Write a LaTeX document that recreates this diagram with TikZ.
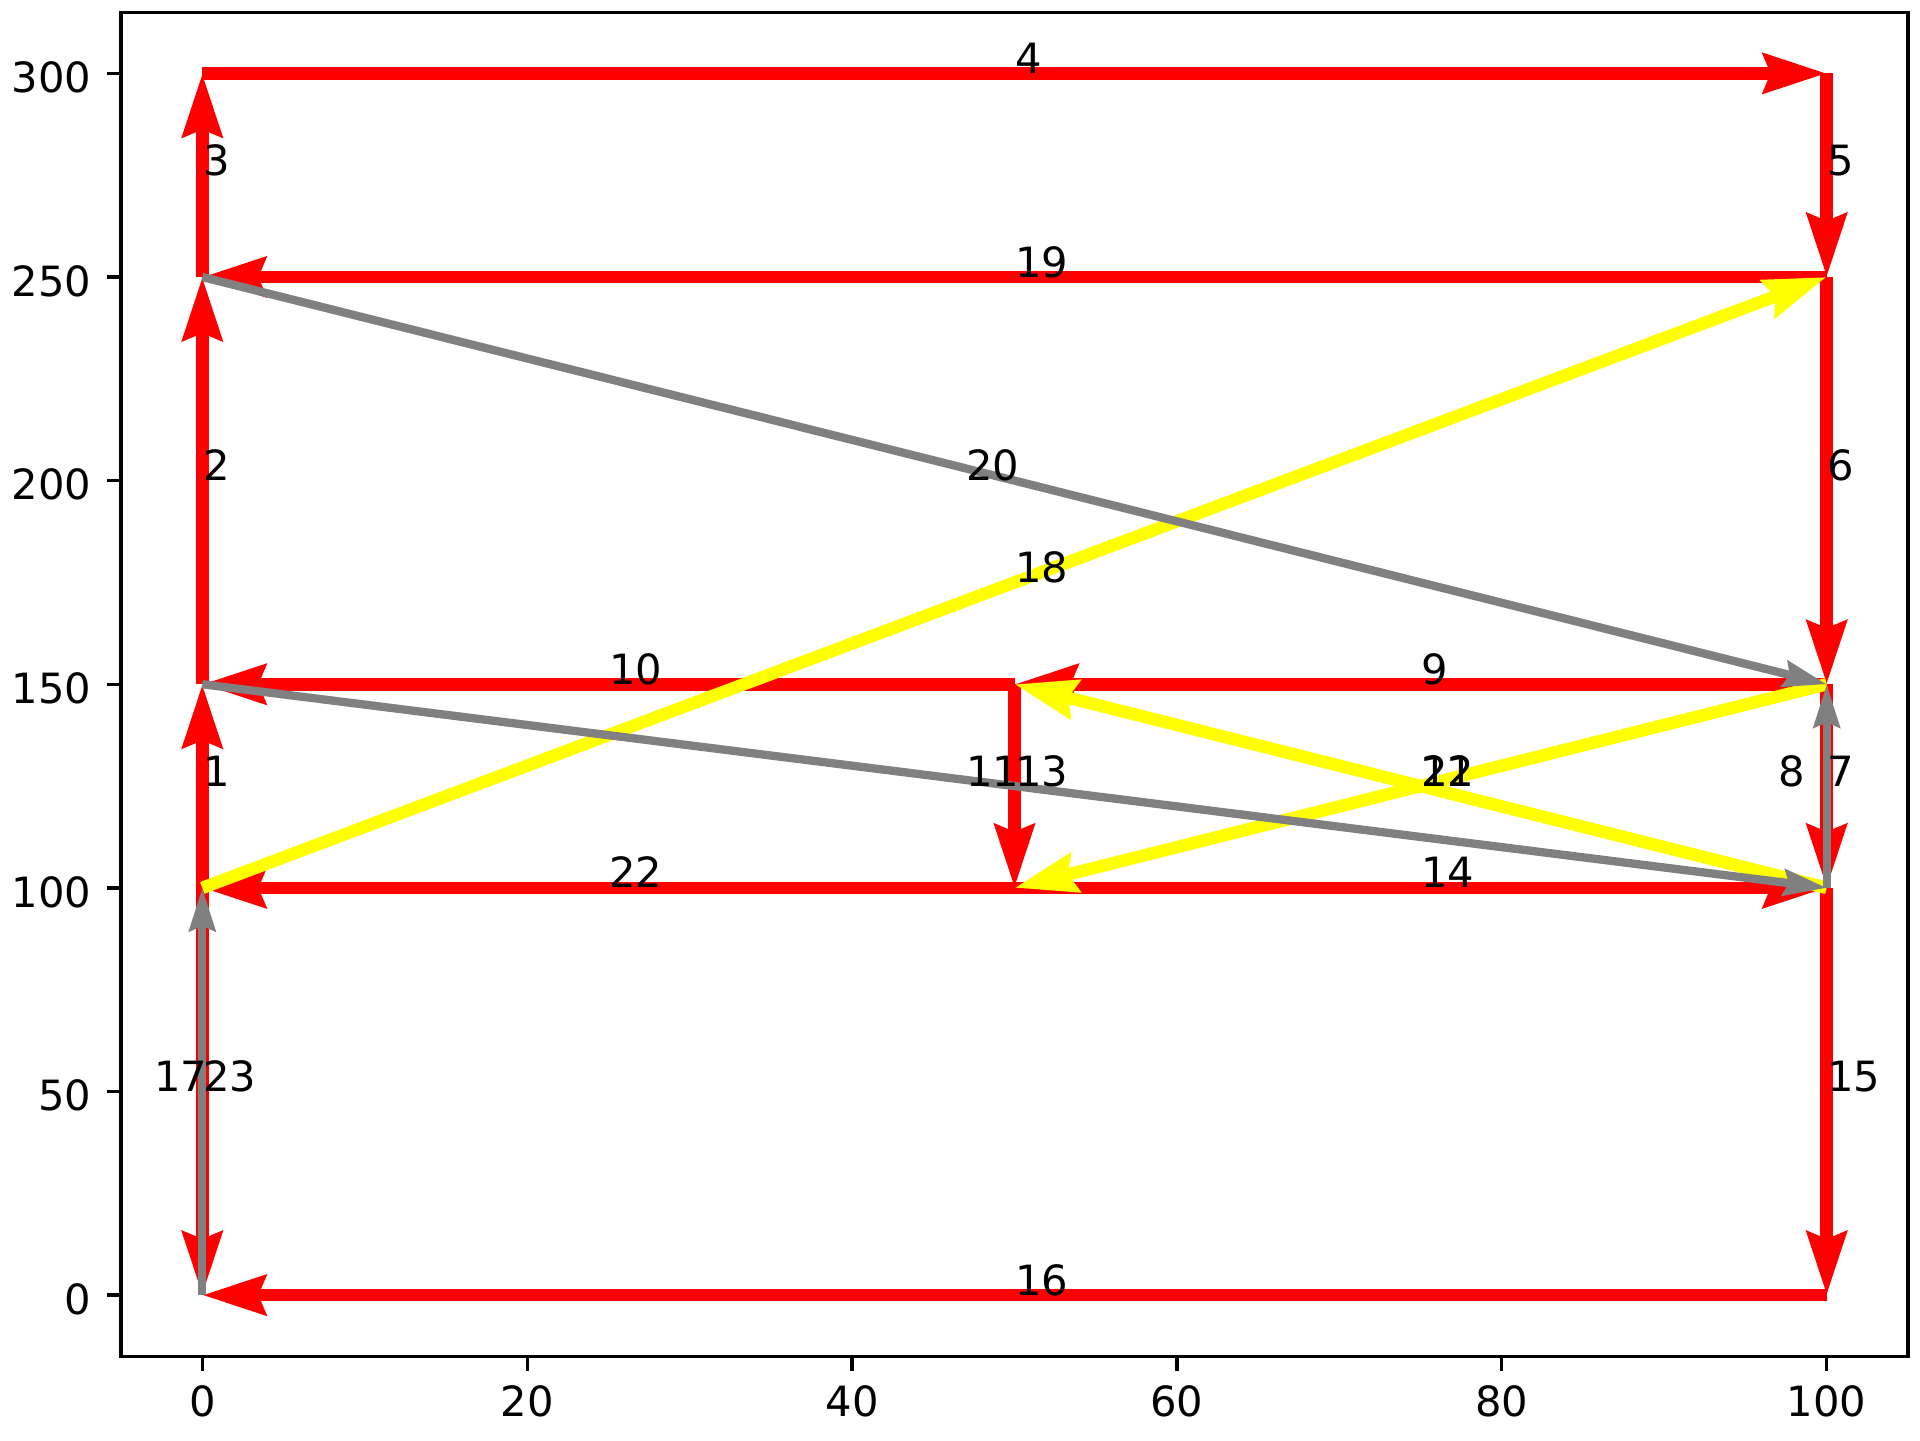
\documentclass[tikz,border=0pt]{standalone}
\usepackage{fontspec}
\setmainfont{DejaVu Sans}
\usetikzlibrary{arrows.meta}
\definecolor{mplgray}{HTML}{808080}
\definecolor{mplred}{HTML}{FF0000}
\definecolor{mplyel}{HTML}{FFFF00}
\begin{document}
\begin{tikzpicture}[x=0.16244cm,y=0.04072cm,
  redE/.style={draw=mplred,line width=0.125cm,-{Stealth[length=0.63cm,width=0.39cm,inset=0.07cm]}},
  yelE/.style={draw=mplyel,line width=0.125cm,-{Stealth[length=0.62cm,width=0.39cm,inset=0.07cm]}},
  grayE/.style={draw=mplgray,line width=0.083cm,-{Stealth[length=0.43cm,width=0.26cm,inset=0.05cm]}},
  lbl/.style={anchor=base west,inner sep=0pt,font=\fontsize{11.857pt}{14pt}\selectfont},
  ticklbl/.style={inner sep=0pt,font=\fontsize{11.857pt}{14pt}\selectfont},
  tickmark/.style={line width=0.0333cm,black},
  frame/.style={line width=0.0333cm,black}]
\useasboundingbox (-12.454,-35.609) rectangle (105.744,318.026);
\fill[white] (-12.454,-35.609) rectangle (105.744,318.026);
% points
\coordinate (A) at (0,0);
\coordinate (B) at (0,100);
\coordinate (C) at (0,150);
\coordinate (D) at (0,250);
\coordinate (E) at (0,300);
\coordinate (F) at (100,300);
\coordinate (G) at (100,250);
\coordinate (H) at (100,150);
\coordinate (I) at (100,100);
\coordinate (J) at (100,0);
\coordinate (K) at (50,150);
\coordinate (L) at (50,100);
% red edges
\draw[redE] (B) -- (C);
\draw[redE] (C) -- (D);
\draw[redE] (D) -- (E);
\draw[redE] (E) -- (F);
\draw[redE] (F) -- (G);
\draw[redE] (G) -- (H);
\draw[redE] (H) -- (I);
\draw[redE] (H) -- (K);
\draw[redE] (K) -- (C);
\draw[redE] (K) -- (L);
\draw[redE] (L) -- (I);
\draw[redE] (I) -- (J);
\draw[redE] (J) -- (A);
\draw[redE] (G) -- (D);
\draw[redE] (L) -- (B);
\draw[redE] (B) -- (A);
% yellow edges
\draw[yelE] (I) -- (K);
\draw[yelE] (B) -- (G);
\draw[yelE] (H) -- (L);
% gray edges
\draw[grayE] (I) -- (H);
\draw[grayE] (C) -- (I);
\draw[grayE] (A) -- (B);
\draw[grayE] (D) -- (H);
% frame
\draw[frame] (-5,-15) rectangle (105,315);
\foreach \xv in {0,20,40,60,80,100} {
  \draw[tickmark] (\xv,-15) -- ++(0cm,-0.1458cm);
  \node[ticklbl,anchor=base] at (\xv,-29.9) {\xv};
}
\foreach \yv in {0,50,100,150,200,250,300} {
  \draw[tickmark] (-5,\yv) -- ++(-0.1458cm,0cm);
  \node[ticklbl,anchor=base east] at (-6.80,\yv-4.74) {\yv};
}
% edge labels
\node[lbl] (l1) at (0,125) {1};
\node[lbl] (l2) at (0,200) {2};
\node[lbl] (l3) at (0,275) {3};
\node[lbl] (l4) at (50,300) {4};
\node[lbl] (l5) at (100,275) {5};
\node[lbl] (l6) at (100,200) {6};
\node[lbl] (l7) at (100,125) {7};
\node[lbl] (l8) at (97,125) {8};
\node[lbl] (l9) at (75,150) {9};
\node[lbl] (l10) at (25,150) {10};
\node[lbl] (l11) at (47,125) {11};
\node[lbl] (l12) at (75,125) {12};
\node[lbl] (l13) at (50,125) {13};
\node[lbl] (l14) at (75,100) {14};
\node[lbl] (l15) at (100,50) {15};
\node[lbl] (l16) at (50,0) {16};
\node[lbl] (l17) at (-3,50) {17};
\node[lbl] (l18) at (50,175) {18};
\node[lbl] (l19) at (50,250) {19};
\node[lbl] (l20) at (47,200) {20};
\node[lbl] (l21) at (75,125) {21};
\node[lbl] (l22) at (25,100) {22};
\node[lbl] (l23) at (0,50) {23};
\end{tikzpicture}
\end{document}
